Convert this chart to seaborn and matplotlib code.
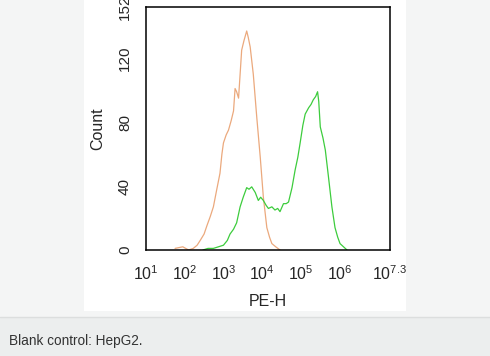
import numpy as np
import pandas as pd
import matplotlib
matplotlib.use("Agg")
import matplotlib.pyplot as plt
import matplotlib.ticker as mtick
from matplotlib.patches import Rectangle
import seaborn as sns

sns.set_style('white')
plt.rcParams['font.family'] = ['Liberation Sans', 'DejaVu Sans']
plt.rcParams['mathtext.fontset'] = 'custom'
plt.rcParams['mathtext.rm'] = 'Liberation Sans'

# blank control (orange) : log10(PE-H) and count
blank_log = [1.75, 1.95, 2.10, 2.22, 2.32, 2.40, 2.50, 2.57, 2.66, 2.74, 2.82, 2.91, 2.96, 3.00,
             3.07, 3.13, 3.20, 3.26, 3.30, 3.34, 3.39, 3.43, 3.47, 3.53, 3.60, 3.64, 3.69, 3.77,
             3.86, 3.95, 4.03, 4.12, 4.19, 4.25, 4.35, 4.46]
blank_cnt = [1, 2, 0, 1, 3, 6, 10, 15, 21, 27, 37, 48, 60, 67,
             72, 75, 81, 87, 101, 99, 95, 110, 125, 131, 137, 133, 127, 110,
             83, 58, 33, 14, 8, 4, 2, 0]

# HepG2 (green)
hepg2_log = [2.47, 2.60, 2.74, 2.87, 3.00, 3.10, 3.17, 3.26, 3.34, 3.43, 3.51, 3.60, 3.66, 3.73,
             3.82, 3.90, 3.96, 4.03, 4.10, 4.16, 4.25, 4.33, 4.40, 4.46, 4.55, 4.62, 4.68, 4.77,
             4.85, 4.92, 4.98, 5.05, 5.11, 5.20, 5.26, 5.32, 5.38, 5.43, 5.46, 5.50, 5.57, 5.63,
             5.71, 5.80, 5.88, 5.95, 6.01, 6.10, 6.19]
hepg2_cnt = [0, 1, 1, 2, 3, 6, 10, 13, 17, 27, 33, 39, 38, 39.5,
             36, 31, 33, 31, 28, 26, 27, 25, 26, 24, 29, 29, 30, 39,
             50, 58, 67, 78, 85, 89, 91, 94, 96, 99, 93, 77, 70, 62.5,
             46, 27, 14, 8, 4, 2, 0]

x_ticks = [1, 2, 3, 4, 5, 6, 7.3]
x_labels = ['$10^{1}$', '$10^{2}$', '$10^{3}$', '$10^{4}$', '$10^{5}$', '$10^{6}$', '$10^{7.3}$']
y_ticks = [0, 40, 80, 120, 152]

df = pd.concat([
    pd.DataFrame({'PE': 10 ** np.array(blank_log), 'Count': blank_cnt, 'sample': 'Blank control'}),
    pd.DataFrame({'PE': 10 ** np.array(hepg2_log), 'Count': hepg2_cnt, 'sample': 'HepG2'}),
])

fig = plt.figure(figsize=(4.9, 3.56), dpi=100, facecolor='#f4f5f5')
# white picture area and caption band (drawn behind the axes)
fig.patches.append(Rectangle((84 / 490, 1 - 311 / 356), 322 / 490, 311 / 356,
                             transform=fig.transFigure, facecolor='white', edgecolor='none', zorder=-2))
fig.patches.append(Rectangle((0, 0), 1, 39 / 356, transform=fig.transFigure,
                             facecolor='#eceeee', edgecolor='none', zorder=-2))
fig.lines.append(plt.Line2D([0, 1], [39 / 356, 39 / 356], transform=fig.transFigure,
                            color='#dcdede', lw=1, zorder=-1))
fig.text(9 / 490, 1 - 341 / 356, 'Blank control: HepG2.', fontsize=9.8, color='#333333',
         va='center', ha='left')

ax = fig.add_axes([146 / 490, 1 - 250 / 356, 244 / 490, 243 / 356])
ax.set_facecolor('white')
sns.lineplot(data=df, x='PE', y='Count', hue='sample', sort=False, estimator=None,
             palette={'Blank control': '#eba97d', 'HepG2': '#3dcc3d'},
             linewidth=0.9, legend=False, ax=ax)

ax.set_xscale('log')
ax.set_xlim(10 ** 1, 10 ** 7.3)
ax.set_ylim(0, 152)
ax.set_xticks([10 ** t for t in x_ticks])
ax.set_xticklabels(x_labels, fontsize=11.5)
ax.xaxis.set_minor_locator(mtick.LogLocator(base=10, subs=np.arange(2, 10), numticks=20))
ax.xaxis.set_minor_formatter(mtick.NullFormatter())
ax.set_yticks(y_ticks)
ax.set_yticklabels([str(v) for v in y_ticks], fontsize=11, rotation=90, va='center')
ax.yaxis.set_minor_locator(mtick.MultipleLocator(8))

ax.tick_params(axis='both', which='major', direction='out', length=4, width=0.9, color='black')
ax.tick_params(axis='x', which='major', pad=6)
ax.tick_params(axis='y', which='major', pad=6)
ax.tick_params(axis='both', which='minor', direction='in', length=2.5, width=0.7, color='black')
ax.tick_params(axis='y', which='minor', direction='out')
for s in ax.spines.values():
    s.set_color('black')
    s.set_linewidth(1.1)

ax.set_xlabel('PE-H', fontsize=11.5, labelpad=8)
ax.set_ylabel('Count', fontsize=11.5, labelpad=9)

fig.savefig('out.png', dpi=100, facecolor=fig.get_facecolor())
